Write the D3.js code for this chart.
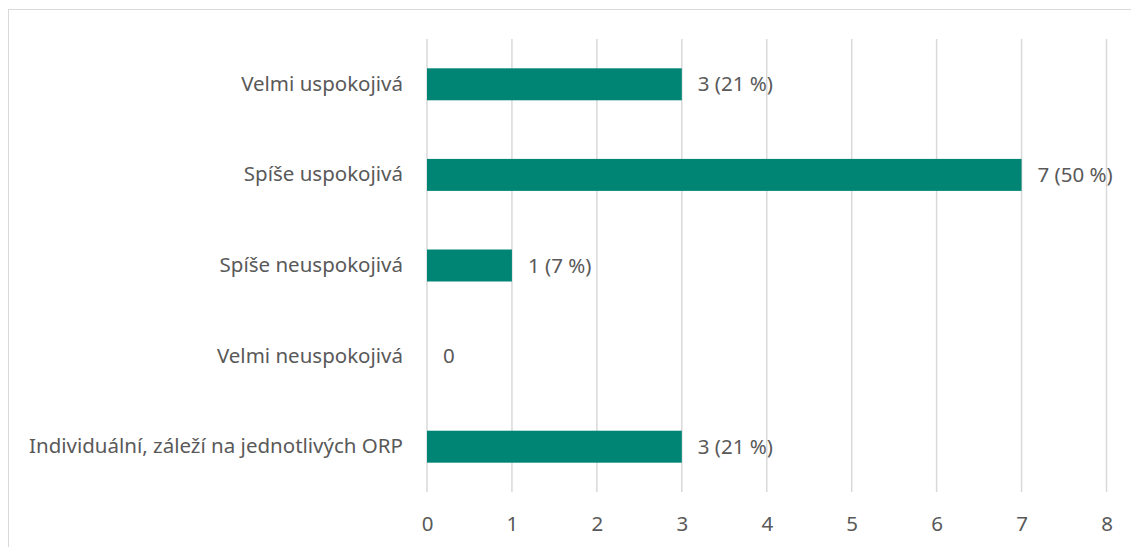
<!DOCTYPE html>
<html>
<head>
<meta charset="utf-8">
<script src="https://cdn.jsdelivr.net/npm/d3@7"></script>
<style>
  body { margin: 0; background: #fff; }
  text { font-family: "Noto Sans", "Open Sans", sans-serif; fill: #595959; }
</style>
</head>
<body>
<div id="chart"></div>
<script>
// data
const categories = ["Velmi uspokojivá", "Spíše uspokojivá", "Spíše neuspokojivá", "Velmi neuspokojivá", "Individuální, záleží na jednotlivých ORP"];
const counts = [3, 7, 1, 0, 3];
const labels = ["3 (21 %)", "7 (50 %)", "1 (7 %)", "0", "3 (21 %)"];
const xTicks = [0, 1, 2, 3, 4, 5, 6, 7, 8];

let width = 1131, height = 547;
const margin = {top: 39, right: 25, bottom: 55, left: 427};
const fontSize = "20.5px";

let svg = d3.select("#chart")
    .append("svg")
    .attr("width", width)
    .attr("height", height);

// chart border (only left/top visible in the picture)
svg.append("rect")
    .attr("x", 8.5).attr("y", 9.5)
    .attr("width", width + 20).attr("height", height + 20)
    .attr("fill", "none")
    .attr("stroke", "#d9d9d9");

let g = svg.append("g")
    .attr("transform", `translate(${margin.left}, ${margin.top})`);

let innerH = height - margin.top - margin.bottom;

let x = d3.scaleLinear().domain([0, 8]).range([0, 679.5]);
let y = d3.scaleBand().domain(categories).range([0, innerH]).paddingInner(0.647).paddingOuter(0.3235);

// gridlines
g.selectAll(".grid").data(xTicks).enter()
    .append("line")
    .attr("x1", d => x(d)).attr("x2", d => x(d))
    .attr("y1", 0).attr("y2", innerH)
    .attr("stroke", "#d9d9d9")
    .attr("stroke-width", 1.5);

// x axis
let xAxis = g.append("g")
    .attr("transform", `translate(0, ${innerH})`)
    .call(d3.axisBottom(x).tickValues(xTicks).tickSize(0).tickPadding(24).tickFormat(d3.format("d")));
xAxis.select(".domain").remove();
xAxis.selectAll("text").style("font-size", fontSize).attr("fill", "#595959");

// y axis
let yAxis = g.append("g")
    .call(d3.axisLeft(y).tickSize(0).tickPadding(24));
yAxis.select(".domain").remove();
yAxis.selectAll("text").style("font-size", fontSize).attr("fill", "#595959");

// bars
g.selectAll(".bar").data(counts).enter()
    .append("rect")
    .attr("x", x(0))
    .attr("y", (d, i) => y(categories[i]))
    .attr("width", d => x(d) - x(0))
    .attr("height", y.bandwidth())
    .attr("fill", "#008575");

// value labels
g.selectAll(".lbl").data(counts).enter()
    .append("text")
    .attr("x", d => x(d) + 16)
    .attr("y", (d, i) => y(categories[i]) + y.bandwidth() / 2)
    .attr("dy", "0.35em")
    .style("font-size", fontSize)
    .text((d, i) => labels[i]);
</script>
</body>
</html>
